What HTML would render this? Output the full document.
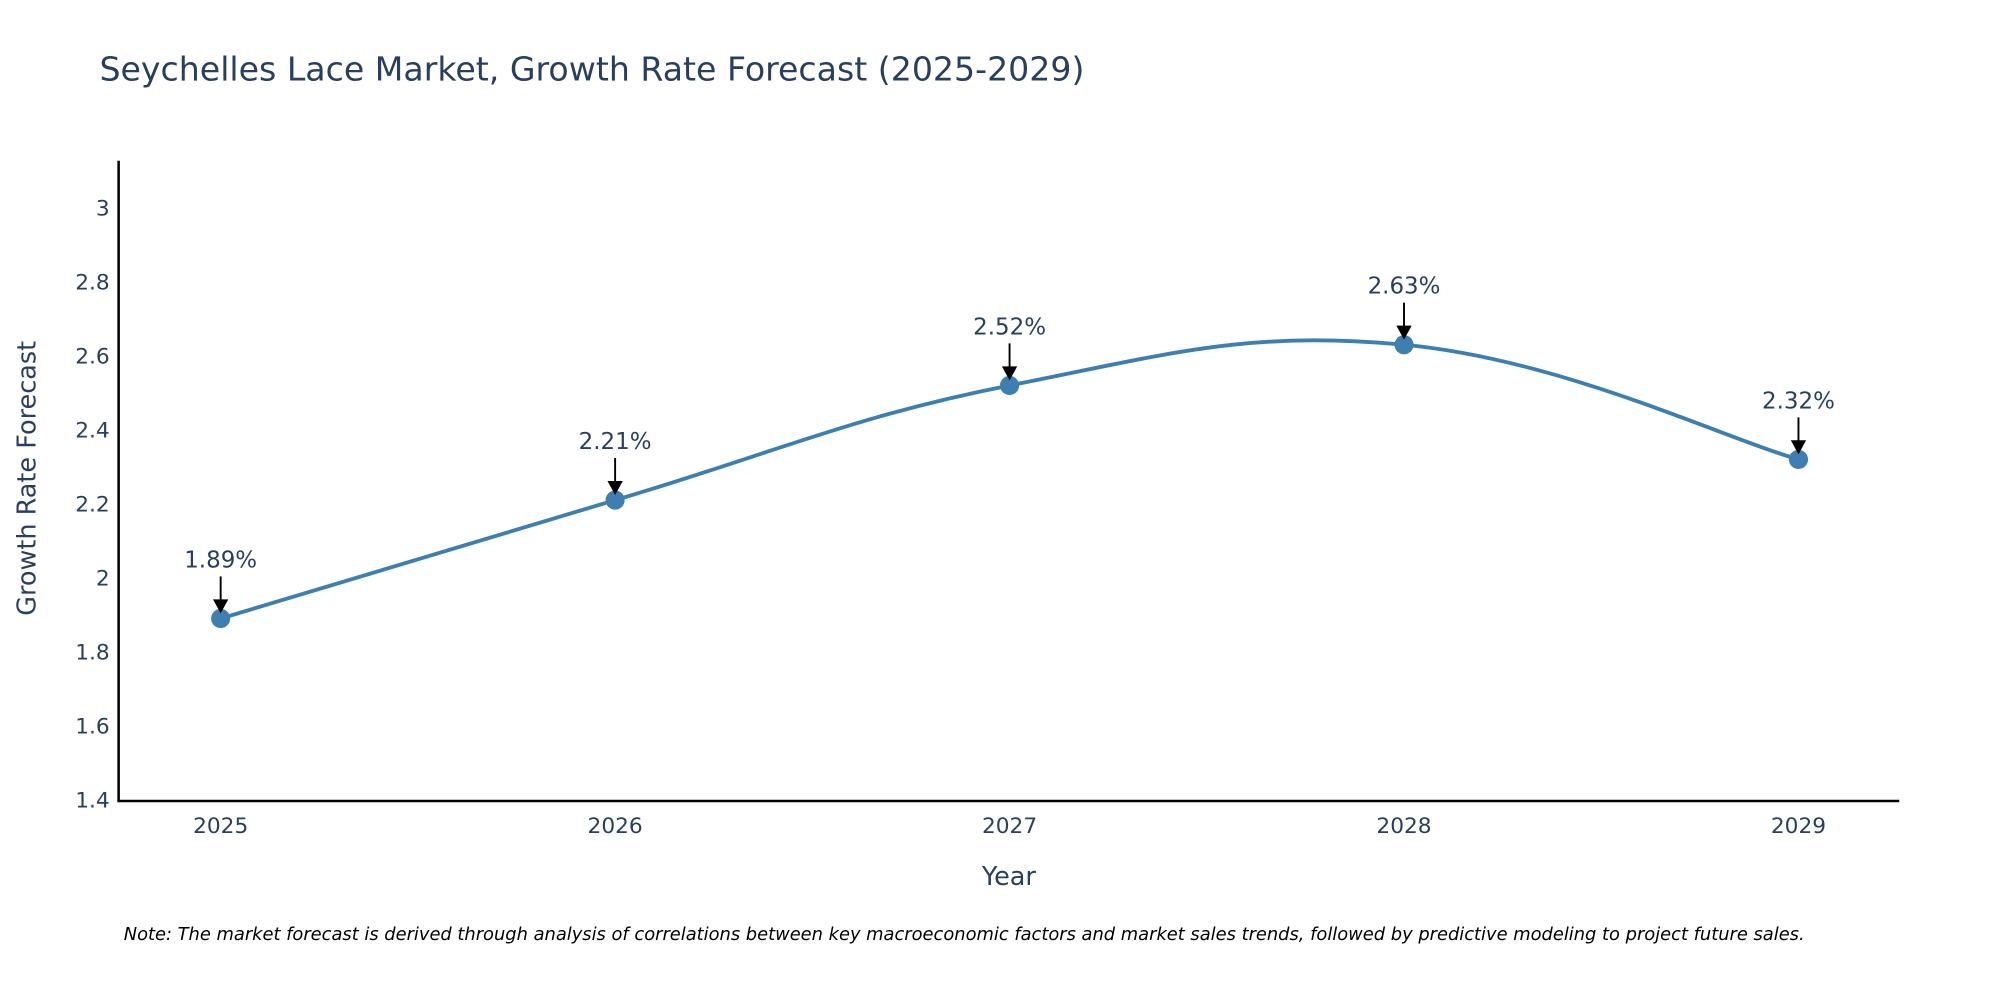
<!DOCTYPE html>
<html><head><meta charset="utf-8"><style>html,body{margin:0;padding:0;background:#fff}svg{display:block}text{font-family:"DejaVu Sans","Liberation Sans",sans-serif;fill:#2a3f5f}</style></head>
<body>
<svg id="chart" width="2000" height="1000" viewBox="0 0 1568 784" xmlns="http://www.w3.org/2000/svg">
<text x="78" y="63" font-size="26">Seychelles Lace Market, Growth Rate Forecast (2025-2029)</text>
<g id="yticks"></g>
<g id="xticks"></g>
<line x1="93" y1="126" x2="93" y2="628" stroke="#000" stroke-width="2"/>
<line x1="92" y1="628" x2="1489" y2="628" stroke="#000" stroke-width="2"/>
<path id="line" fill="none" stroke="#3d7fb0" stroke-width="3"/>
<g id="marks"></g>
<text transform="translate(28,375) rotate(-90)" text-anchor="middle" font-size="20">Growth Rate Forecast</text>
<text x="791" y="694" text-anchor="middle" font-size="20">Year</text>
<text x="97" y="737" font-size="14" font-style="italic" style="fill:#000">Note: The market forecast is derived through analysis of correlations between key macroeconomic factors and market sales trends, followed by predictive modeling to project future sales.</text>
</svg>
<script>
const years = [2025, 2026, 2027, 2028, 2029];
const growth = [1.89, 2.21, 2.52, 2.63, 2.32];
const yTickValues = [1.4, 1.6, 1.8, 2, 2.2, 2.4, 2.6, 2.8, 3];
const yTickLabels = ["1.4", "1.6", "1.8", "2", "2.2", "2.4", "2.6", "2.8", "3"];

const NS = "http://www.w3.org/2000/svg";
function xs(v){ return 173 + (v - 2025) * (1410 - 173) / 4; }
function ys(v){ return 627 - (v - 1.4) * (627 - 163) / 1.6; }
function mk(tag, attrs, parent){ const e = document.createElementNS(NS, tag); for (const k in attrs) e.setAttribute(k, attrs[k]); parent.appendChild(e); return e; }

const yt = document.getElementById('yticks');
yTickValues.forEach((v, i) => {
  const t = mk('text', {x: 86, y: ys(v) + 6, 'text-anchor': 'end', 'font-size': 17}, yt);
  
  
  t.textContent = yTickLabels[i];
});
const xt = document.getElementById('xticks');
years.forEach(y => {
  const t = mk('text', {x: xs(y), y: 653, 'text-anchor': 'middle', 'font-size': 17}, xt);
  
  
  t.textContent = String(y);
});

const pts = years.map((y, i) => [xs(y), ys(growth[i])]);
let d = 'M' + pts[0][0] + ',' + pts[0][1];
const s = 0.2;
for (let i = 0; i < pts.length - 1; i++) {
  const p0 = pts[Math.max(0, i - 1)], p1 = pts[i], p2 = pts[i + 1], p3 = pts[Math.min(pts.length - 1, i + 2)];
  const c1 = [p1[0] + (p2[0] - p0[0]) * s, p1[1] + (p2[1] - p0[1]) * s];
  const c2 = [p2[0] - (p3[0] - p1[0]) * s, p2[1] - (p3[1] - p1[1]) * s];
  d += ' C' + c1 + ' ' + c2 + ' ' + p2;
}
document.getElementById('line').setAttribute('d', d);

const mg = document.getElementById('marks');
pts.forEach((p, i) => {
  const c = mk('circle', {cx: p[0], cy: p[1], r: 7.5, fill: '#3d7fb0'}, mg);
  
  
  const l = mk('line', {x1: p[0], y1: p[1] - 33, x2: p[0], y2: p[1] - 14, stroke: '#000', 'stroke-width': 1.5}, mg);
  
  
  const h = mk('path', {d: 'M' + (p[0] - 6) + ',' + (p[1] - 15) + ' L' + (p[0] + 6) + ',' + (p[1] - 15) + ' L' + p[0] + ',' + (p[1] - 4) + 'Z', fill: '#000'}, mg);
  
  
  const t = mk('text', {x: p[0], y: p[1] - 40, 'text-anchor': 'middle', 'font-size': 18}, mg);
  
  
  t.textContent = growth[i].toFixed(2) + '%';
});
</script>
</body></html>
